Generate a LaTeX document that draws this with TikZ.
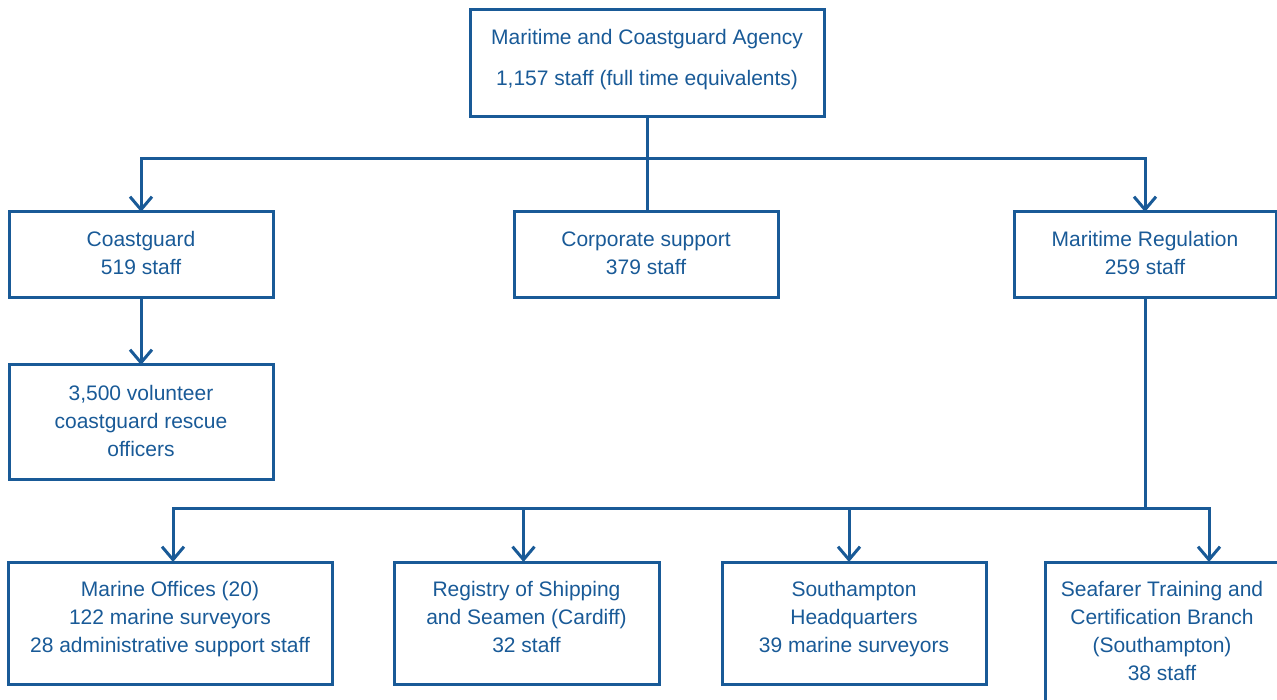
\documentclass[tikz,border=0pt]{standalone}
\usepackage{fontspec}
\setmainfont{Liberation Sans}
\usetikzlibrary{positioning,arrows.meta}
\definecolor{mcablue}{HTML}{195A97}

\begin{document}
\begin{tikzpicture}[x=1pt,y=1pt,
    box/.style={draw=mcablue, line width=3pt, text=mcablue, align=center,
        inner xsep=0pt, inner ysep=0pt, outer sep=0pt,
        font=\fontsize{21}{28}\selectfont},
    link/.style={draw=mcablue, line width=3pt},
    arrow/.style={link, -{Straight Barb[length=13pt,width=22pt]}}]

    \useasboundingbox (0,0) rectangle (1277,-700);
    \clip (0,0) rectangle (1277,-700);

    % agency
    \node[box, minimum width=354pt, text height=76pt, text depth=31pt, anchor=north] (mca) at (647,-10)
        {Maritime and Coastguard Agency\\[13pt]1,157 staff (full time equivalents)};

    % divisions
    \node[box, minimum width=264pt, text height=63pt, text depth=23pt, anchor=north] (coast) at (141,-212)
        {Coastguard\\519 staff};
    \node[box, minimum width=264pt, text height=63pt, text depth=23pt, right=241pt of coast] (corp)
        {Corporate support\\379 staff};
    \node[box, minimum width=262pt, text height=63pt, text depth=23pt, right=236pt of corp] (mreg)
        {Maritime Regulation\\259 staff};
    \node[box, minimum width=264pt, text height=91pt, text depth=23pt, below=67pt of coast] (vol)
        {3,500 volunteer\\coastguard rescue\\officers};

    % maritime regulation branches
    \node[box, minimum width=324pt, text height=90pt, text depth=32pt, anchor=north] (marine) at (170,-562)
        {Marine Offices (20)\\122 marine surveyors\\28 administrative support staff};
    \node[box, minimum width=265pt, text height=90pt, text depth=32pt, right=62pt of marine] (registry)
        {Registry of Shipping\\and Seamen (Cardiff)\\32 staff};
    \node[box, minimum width=264pt, text height=90pt, text depth=32pt, right=63pt of registry] (soton)
        {Southampton\\Headquarters\\39 marine surveyors};
    \node[box, minimum width=234pt, text height=118pt, text depth=24pt, right=59pt of soton.north east,
        anchor=north west] (seafarer)
        {Seafarer Training and\\Certification Branch\\(Southampton)\\38 staff};

    % connectors
    \coordinate[below=42pt of mca.south] (bus1);
    \draw[link] (mca.south) -- (bus1);
    \draw[arrow] (bus1) -| (coast.north);
    \draw[arrow] (bus1) -| (mreg.north);
    \draw[link] (bus1) -- (bus1 |- corp.north);
    \draw[arrow] (coast.south) -- (vol.north);

    \coordinate[below=210pt of mreg.south] (bus2);
    \draw[link] (mreg.south) -- (bus2);
    \draw[arrow] (bus2) -| ([xshift=3pt]marine.north);
    \draw[arrow] (bus2) -| ([xshift=-3pt]registry.north);
    \draw[arrow] (bus2) -| ([xshift=-5pt]soton.north);
    \draw[arrow] (bus2) -| ([xshift=47pt]seafarer.north);
\end{tikzpicture}
\end{document}
